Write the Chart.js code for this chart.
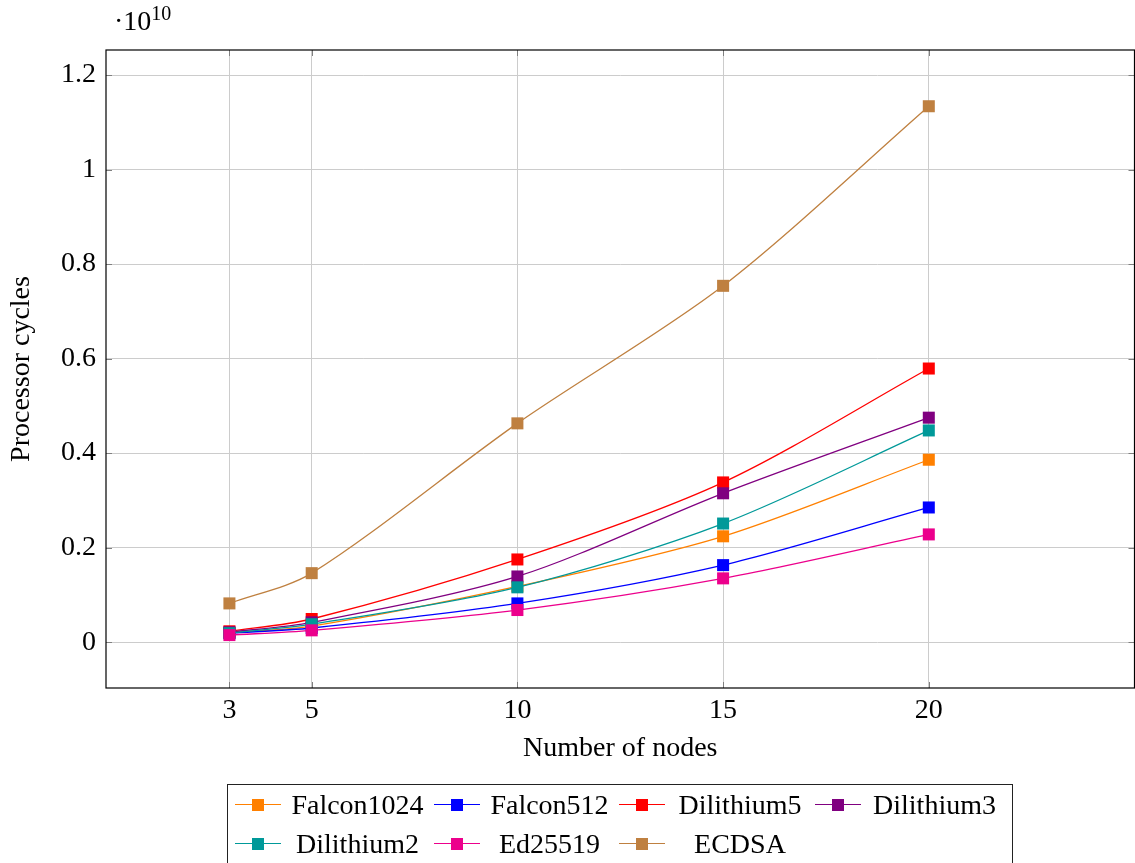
<!DOCTYPE html>
<html lang="en">
<head>
    <meta charset="UTF-8" />
    <title>Processor cycles</title>
    <style>
        body { margin: 0; background: #fff; font-family: "Liberation Serif", serif; }
        .wrap { position: relative; width: 1135px; height: 863px; overflow: hidden; }
        canvas { position: absolute; left: 0; top: 0; }
        .exp { position: absolute; left: 114px; top: 2px; font-size: 28px; color: #000; }
        .exp sup { font-size: 20px; }
        .legend {
            position: absolute; left: 227px; top: 784px; width: 786px; height: 100px;
            border: 1px solid #222; box-sizing: border-box; padding-left: 7px;
            display: grid; grid-template-columns: 46px 153px 46px 139px 46px 150px 46px 147px;
            grid-auto-rows: 39px; align-items: center; font-size: 28px;
        }
        .legend .txt { text-align: center; white-space: nowrap; }
        .sample { position: relative; height: 12px; }
        .sample .ln { position: absolute; left: 0; right: 0; top: 5px; height: 0; border-top: 1.3px solid; }
        .sample .mk { position: absolute; left: 17px; top: 0; width: 12px; height: 12px; }
    </style>
</head>
<body>
    <div class="wrap">
        <!-- a bit wider than the page: Chart.js keeps ~9px on the right, which we let overflow -->
        <canvas id="cycles" width="1143" height="863"></canvas>
        <div class="exp">&middot;10<sup>10</sup></div>
        <div class="legend" id="legend"></div>
    </div>

    <script src="https://cdn.jsdelivr.net/npm/chart.js@4.4.1/dist/chart.umd.min.js"></script>
    <script>
        // values in units of 10^10 processor cycles
        const nodes = [3, 5, 10, 15, 20];
        const falcon1024 = [0.020, 0.034, 0.118, 0.224, 0.386];
        const falcon512  = [0.019, 0.030, 0.082, 0.163, 0.285];
        const dilithium5 = [0.023, 0.049, 0.175, 0.338, 0.579];
        const dilithium3 = [0.021, 0.042, 0.139, 0.315, 0.475];
        const dilithium2 = [0.019, 0.038, 0.116, 0.251, 0.448];
        const ed25519    = [0.015, 0.025, 0.068, 0.135, 0.228];
        const ecdsa      = [0.082, 0.146, 0.463, 0.754, 1.134];

        const seriesNames = ['Falcon1024', 'Falcon512', 'Dilithium5', 'Dilithium3', 'Dilithium2', 'Ed25519', 'ECDSA'];
        const seriesValues = [falcon1024, falcon512, dilithium5, dilithium3, dilithium2, ed25519, ecdsa];
        const seriesColors = ['#ff8000', '#0000ff', '#ff0000', '#800080', '#009999', '#ec008c', '#bf8040'];

        const xTicks = [3, 5, 10, 15, 20];
        const yTicks = [0, 0.2, 0.4, 0.6, 0.8, 1, 1.2];

        const font = { family: '"Liberation Serif", serif', size: 28 };

        // plot frame and small inner tick marks, like pgfplots
        const framePlugin = {
            id: 'frame',
            afterDraw(chart) {
                const { ctx, chartArea: a, scales } = chart;
                ctx.save();
                ctx.strokeStyle = '#808080';
                ctx.lineWidth = 1;
                ctx.beginPath();
                xTicks.forEach(v => {
                    const px = Math.round(scales.x.getPixelForValue(v)) + 0.5;
                    ctx.moveTo(px, a.bottom); ctx.lineTo(px, a.bottom - 6);
                    ctx.moveTo(px, a.top); ctx.lineTo(px, a.top + 6);
                });
                yTicks.forEach(v => {
                    const py = Math.round(scales.y.getPixelForValue(v)) + 0.5;
                    ctx.moveTo(a.left, py); ctx.lineTo(a.left + 6, py);
                    ctx.moveTo(a.right, py); ctx.lineTo(a.right - 6, py);
                });
                ctx.stroke();
                ctx.strokeStyle = '#000';
                ctx.lineWidth = 1.2;
                ctx.strokeRect(a.left, a.top, a.right - a.left, a.bottom - a.top);
                ctx.restore();
            }
        };

        const datasets = seriesNames.map((name, i) => ({
            label: name,
            data: nodes.map((n, k) => ({ x: n, y: seriesValues[i][k] })),
            borderColor: seriesColors[i],
            backgroundColor: seriesColors[i],
            borderWidth: 1.3,
            pointStyle: 'rect',
            pointRadius: 8.5,
            pointBorderWidth: 0,
            tension: 0.3,
            order: seriesNames.length - i,
            clip: false
        }));

        new Chart(document.getElementById('cycles'), {
            type: 'line',
            data: { datasets: datasets },
            options: {
                responsive: false,
                devicePixelRatio: 1,
                animation: false,
                layout: { padding: { top: 50, right: 0, bottom: 98, left: 0 } },
                plugins: { legend: { display: false }, tooltip: { enabled: false } },
                scales: {
                    x: {
                        type: 'linear',
                        min: 0,
                        max: 25,
                        afterFit: s => { s.height = 77; },
                        afterBuildTicks: s => { s.ticks = xTicks.map(v => ({ value: v })); },
                        grid: { color: '#cccccc', drawTicks: false },
                        border: { display: false },
                        ticks: { font: font, color: '#000', padding: 6, callback: v => String(v) },
                        title: { display: true, text: 'Number of nodes', font: font, color: '#000', padding: { top: 0, bottom: 0 } }
                    },
                    y: {
                        type: 'linear',
                        min: -0.097,
                        max: 1.253,
                        afterFit: s => { s.width = 106; },
                        afterBuildTicks: s => { s.ticks = yTicks.map(v => ({ value: v })); },
                        grid: { color: '#cccccc', drawTicks: false },
                        border: { display: false },
                        ticks: { font: font, color: '#000', padding: 10, callback: v => String(+v.toFixed(1)) },
                        title: { display: true, text: 'Processor cycles', font: font, color: '#000', padding: { top: 5, bottom: 0 } }
                    }
                }
            },
            plugins: [framePlugin]
        });

        // legend box, 4 columns
        const legend = document.getElementById('legend');
        seriesNames.forEach((name, i) => {
            const s = document.createElement('div');
            s.className = 'sample';
            s.innerHTML = '<div class="ln" style="border-color:' + seriesColors[i] + '"></div>' +
                          '<div class="mk" style="background:' + seriesColors[i] + '"></div>';
            const t = document.createElement('div');
            t.className = 'txt';
            t.textContent = name;
            legend.appendChild(s);
            legend.appendChild(t);
        });
    </script>
</body>
</html>
